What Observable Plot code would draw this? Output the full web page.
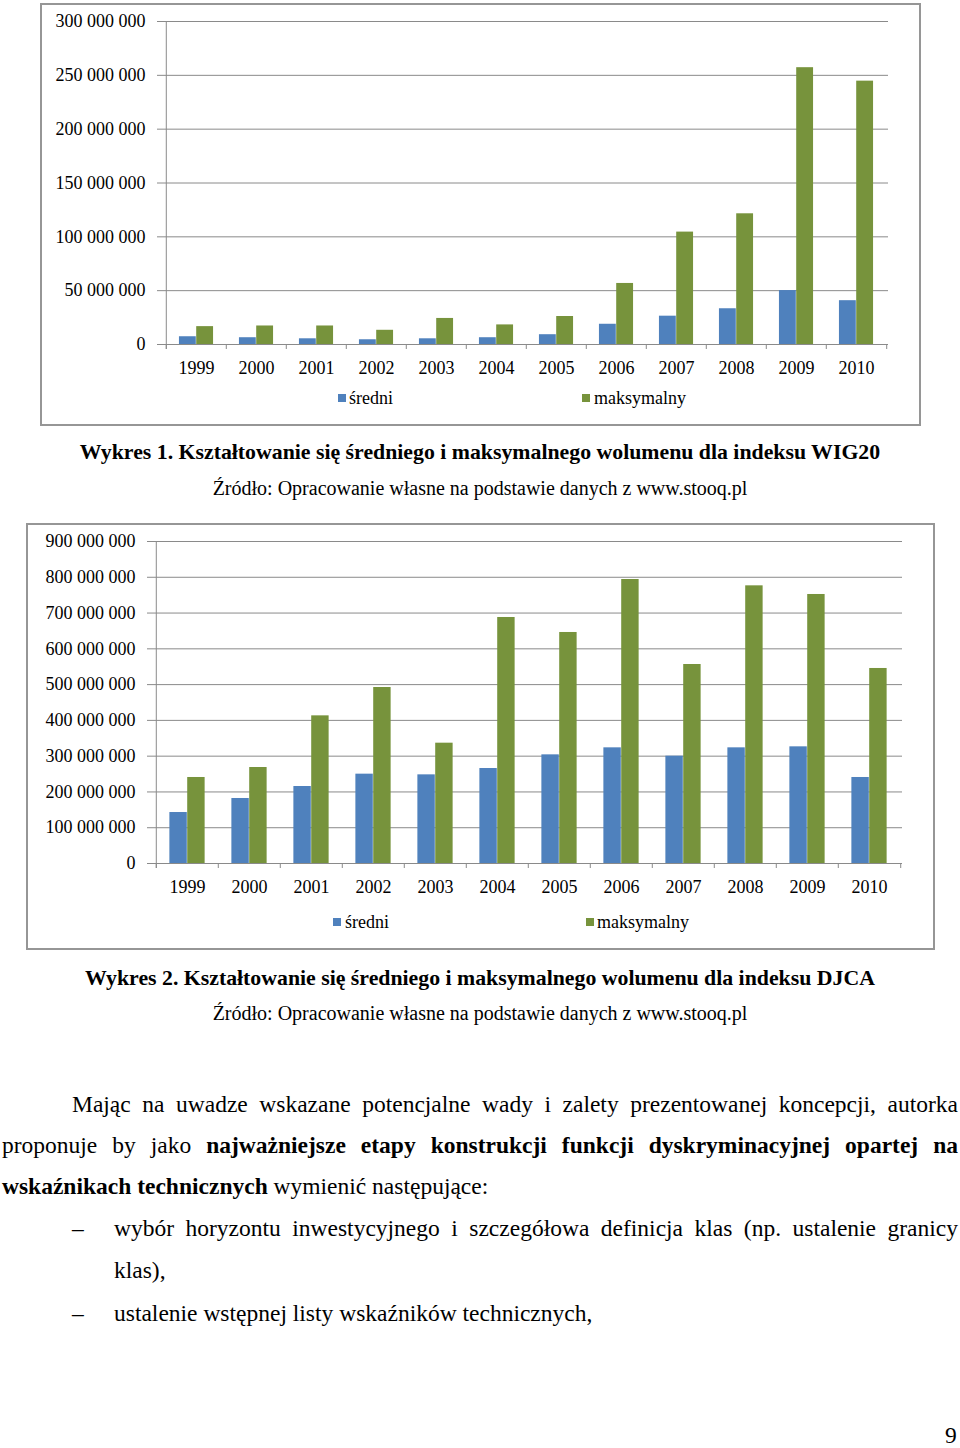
<!DOCTYPE html>
<html>
<head>
<meta charset="utf-8">
<script src="https://cdn.jsdelivr.net/npm/d3@7"></script>
<script src="https://cdn.jsdelivr.net/npm/@observablehq/plot@0.6"></script>
<style>
  html, body { margin: 0; padding: 0; background: #fff; }
  body { width: 960px; height: 1448px; position: relative; overflow: hidden;
         font-family: "Liberation Serif", "Times New Roman", serif; color: #000; }
  .box { position: absolute; border: 2px solid #969696; box-sizing: border-box; }
  .cap { position: absolute; left: 0; width: 960px; text-align: center; white-space: nowrap; }
  .line { position: absolute; font-size: 23.5px; line-height: 30px; white-space: nowrap; }
  .just { text-align: justify; text-align-last: justify; white-space: normal; }
  .leg { position: absolute; font-size: 18px; line-height: 20px; white-space: nowrap; }
  .sq { position: absolute; width: 8px; height: 8px; }
</style>
</head>
<body>
<script>
// ---- data ----
const years = ["1999","2000","2001","2002","2003","2004","2005","2006","2007","2008","2009","2010"];
const seriesNames = ["średni", "maksymalny"];

const wig20Sredni = [7200000, 6300000, 5300000, 4400000, 5300000, 6300000, 9100000, 18800000, 26300000, 33200000, 50100000, 40700000];
const wig20Maks   = [16600000, 17200000, 17200000, 13200000, 24200000, 18200000, 26000000, 56700000, 104400000, 121400000, 257100000, 244600000];

const djcaSredni = [142500000, 181700000, 215200000, 249700000, 247800000, 265500000, 303700000, 323300000, 300000000, 323300000, 326100000, 240400000];
const djcaMaks   = [240400000, 268300000, 412700000, 491900000, 336300000, 687600000, 645700000, 793800000, 556200000, 776100000, 751900000, 545100000];

const wig20Ticks = [0, 50000000, 100000000, 150000000, 200000000, 250000000, 300000000];
const djcaTicks  = [0, 100000000, 200000000, 300000000, 400000000, 500000000, 600000000, 700000000, 800000000, 900000000];

// ---- style ----
const BLUE = "#4F81BD", GREEN = "#77933C", GRAY = "#8a8a8a";
const FONT = '"Liberation Serif", "Times New Roman", serif';
const fmt = d3.formatLocale({decimal: ",", thousands: "\u00a0", grouping: [3], currency: ["", ""]}).format(",d");

function makeChart({width, height, marginLeft, marginRight, marginTop, marginBottom, ticks, sredni, maks}) {
  const plotW = width - marginLeft - marginRight;
  const bw = plotW / years.length;      // category step
  const w = bw / 3.5;                     // bar width (gap width 150%)
  const dataS = years.map((y, i) => ({year: y, value: sredni[i]}));
  const dataM = years.map((y, i) => ({year: y, value: maks[i]}));
  return Plot.plot({
    width, height, marginLeft, marginRight, marginTop, marginBottom,
    style: {fontFamily: FONT, fontSize: "18px", background: "transparent", color: "#000"},
    x: {type: "band", domain: years, padding: 0, axis: null, label: null},
    y: {domain: [0, ticks[ticks.length - 1]], axis: null, label: null},
    marks: [
      Plot.gridY(ticks, {stroke: GRAY, strokeOpacity: 1}),
      Plot.axisY(ticks, {tickSize: 6, tickPadding: 12, tickFormat: fmt, fontSize: 18, stroke: GRAY, fill: "#000", label: null}),
      Plot.ruleX([years[0]], {dx: -bw / 2, stroke: GRAY, insetBottom: -5}),
      Plot.ruleY([0], {stroke: GRAY}),
      Plot.axisX(years, {tickSize: 5, dx: -bw / 2, tickFormat: () => "", stroke: GRAY, label: null}),
      Plot.axisX([years[years.length - 1]], {tickSize: 5, dx: bw / 2, tickFormat: () => "", stroke: GRAY, label: null}),
      Plot.axisX(years, {tickSize: 0, tickPadding: 17, fontSize: 18, fill: "#000", label: null}),
      Plot.barY(dataS, {x: "year", y: "value", fill: BLUE, insetLeft: 0.75 * w, insetRight: 1.75 * w}),
      Plot.barY(dataM, {x: "year", y: "value", fill: GREEN, insetLeft: 1.75 * w, insetRight: 0.75 * w})
    ]
  });
}

function place(el, left, top) {
  el.style.position = "absolute";
  el.style.left = left + "px";
  el.style.top = top + "px";
  document.body.appendChild(el);
}
function div(cls, html, css) {
  const d = document.createElement("div");
  d.className = cls;
  d.innerHTML = html;
  Object.assign(d.style, css || {});
  document.body.appendChild(d);
  return d;
}

// ---- chart 1 ----
div("box", "", {left: "40px", top: "3px", width: "881px", height: "423px"});
place(makeChart({width: 876, height: 385, marginLeft: 121, marginRight: 30, marginTop: 16, marginBottom: 46,
  ticks: wig20Ticks, sredni: wig20Sredni, maks: wig20Maks}), 42, 5);
div("sq", "", {left: "338px", top: "394px", background: BLUE});
div("leg", seriesNames[0], {left: "349px", top: "388px"});
div("sq", "", {left: "582px", top: "394px", background: GREEN});
div("leg", seriesNames[1], {left: "594px", top: "388px"});

div("cap", "<b>Wykres 1. Kształtowanie się średniego i maksymalnego wolumenu dla indeksu WIG20</b>", {top: "439px", fontSize: "21.8px", lineHeight: "26px"});
div("cap", "Źródło: Opracowanie własne na podstawie danych z www.stooq.pl", {top: "476px", fontSize: "20px", lineHeight: "24px"});

// ---- chart 2 ----
div("box", "", {left: "26px", top: "523px", width: "909px", height: "427px"});
place(makeChart({width: 904, height: 385, marginLeft: 125, marginRight: 30, marginTop: 16, marginBottom: 47,
  ticks: djcaTicks, sredni: djcaSredni, maks: djcaMaks}), 28, 525);
div("sq", "", {left: "333px", top: "918px", background: BLUE});
div("leg", seriesNames[0], {left: "345px", top: "912px"});
div("sq", "", {left: "586px", top: "918px", background: GREEN});
div("leg", seriesNames[1], {left: "597px", top: "912px"});

div("cap", "<b>Wykres 2. Kształtowanie się średniego i maksymalnego wolumenu dla indeksu DJCA</b>", {top: "965px", fontSize: "21.8px", lineHeight: "26px"});
div("cap", "Źródło: Opracowanie własne na podstawie danych z www.stooq.pl", {top: "1001px", fontSize: "20px", lineHeight: "24px"});

// ---- body text ----
div("line just", "Mając na uwadze wskazane potencjalne wady i zalety prezentowanej koncepcji, autorka", {left: "72px", top: "1089px", width: "886px"});
div("line just", "proponuje by jako <b>najważniejsze etapy konstrukcji funkcji dyskryminacyjnej opartej na</b>", {left: "2px", top: "1130px", width: "956px"});
div("line", "<b>wskaźnikach technicznych</b> wymienić następujące:", {left: "2px", top: "1171px"});
div("line", "–", {left: "72px", top: "1213px"});
div("line just", "wybór horyzontu inwestycyjnego i szczegółowa definicja klas (np. ustalenie granicy", {left: "114px", top: "1213px", width: "844px"});
div("line", "klas),", {left: "114px", top: "1255px"});
div("line", "–", {left: "72px", top: "1298px"});
div("line", "ustalenie wstępnej listy wskaźników technicznych,", {left: "114px", top: "1298px"});
div("line", "9", {left: "945px", top: "1420px"});
</script>
</body>
</html>
